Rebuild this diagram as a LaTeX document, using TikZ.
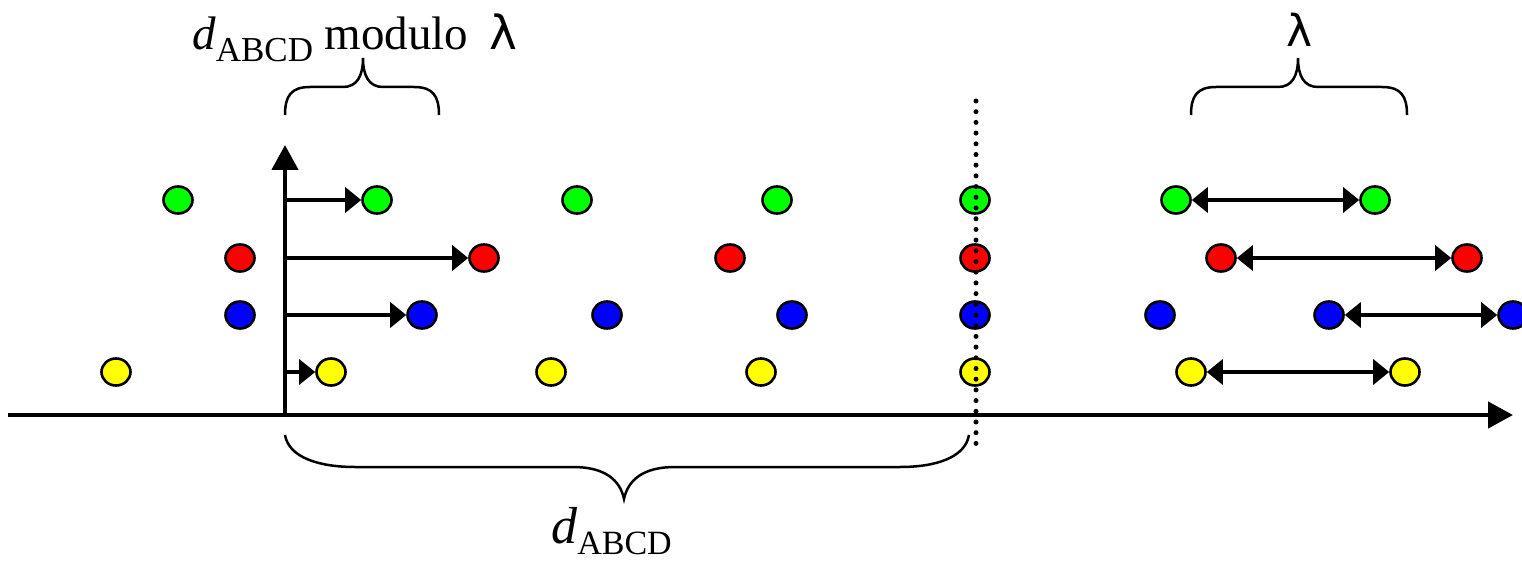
\documentclass[tikz,border=0pt]{standalone}
\usepackage{fontspec}
\setmainfont{Liberation Serif}
\newfontfamily\lamfont{DejaVu Sans}
\usetikzlibrary{arrows.meta,shapes.geometric}
\definecolor{cgreen}{RGB}{0,255,0}
\definecolor{cred}{RGB}{255,0,0}
\definecolor{cblue}{RGB}{0,0,255}
\definecolor{cyellow}{RGB}{255,255,0}
\begin{document}
\begin{tikzpicture}[x=1pt,y=-1pt,
  dot/.style={ellipse,draw,line width=2.6pt,minimum width=29pt,minimum height=27pt,inner sep=0pt},
  shiftarrow/.style={line width=3.5pt,-{Triangle[length=16pt,width=25pt]}},
  spanarrow/.style={line width=3.5pt,{Triangle[length=16pt,width=25pt]}-{Triangle[length=16pt,width=25pt]}},
  axisline/.style={line width=4.5pt,-{Triangle[length=25pt,width=26pt]}},
  bracestyle/.style={line width=2.5pt},
  dotline/.style={line width=5pt,line cap=round,dash pattern=on 0pt off 10.7pt},
  lbl/.style={inner sep=0pt}]
\useasboundingbox (0,0) rectangle (1522,561);

% dots
\foreach \x [count=\i] in {178,377,577,777,975,1176,1375}
  \node[dot,fill=cgreen] (g\i) at (\x,200) {};
\foreach \x [count=\i] in {240,484,730,975,1221,1467}
  \node[dot,fill=cred] (r\i) at (\x,258) {};
\foreach \x [count=\i] in {240,422,607,792,975,1160,1329,1513}
  \node[dot,fill=cblue] (b\i) at (\x,315) {};
\foreach \x [count=\i] in {116,331,551,761,975,1191,1405}
  \node[dot,fill=cyellow] (y\i) at (\x,372) {};

% axes
\coordinate (origin) at (285,415);
\coordinate (xleft) at (8,415);
\coordinate (xend) at (1513,415);
\coordinate (yend) at (285,145);
\draw[axisline] (xleft) -- (xend);
\draw[axisline] (origin) -- (yend);

% shift arrows from the vertical axis
\coordinate (ag) at (285,200);
\coordinate (ar) at (285,258);
\coordinate (ab) at (285,315);
\coordinate (ay) at (285,372);
\draw[shiftarrow] (ag) -- (g2.west);
\draw[shiftarrow] (ar) -- (r2.west);
\draw[shiftarrow] (ab) -- (b2.west);
\draw[shiftarrow] (ay) -- (y2.west);

% span arrows on the right
\draw[spanarrow] (g6.east) -- (g7.west);
\draw[spanarrow] (r5.east) -- (r6.west);
\draw[spanarrow] (b7.east) -- (b8.west);
\draw[spanarrow] (y6.east) -- (y7.west);

% dotted line
\coordinate (dtop) at (976,101);
\coordinate (dbot) at (976,453);
\draw[dotline] (dtop) -- (dbot);

% braces
\draw[bracestyle] (285,115) .. controls (285,96) and (291,87) .. (310,87) -- (343,87)
  .. controls (357,87) and (363,76) .. (363,58)
  .. controls (363,76) and (369,87) .. (383,87) -- (414,87)
  .. controls (433,87) and (439,96) .. (439,115);
\draw[bracestyle] (1191,115) .. controls (1191,96) and (1197,87) .. (1216,87) -- (1278,87)
  .. controls (1292,87) and (1298,76) .. (1298,58)
  .. controls (1298,76) and (1304,87) .. (1318,87) -- (1382,87)
  .. controls (1401,87) and (1407,96) .. (1407,115);
\draw[bracestyle] (285,435) .. controls (289,458) and (320,467) .. (355,467) -- (573,467)
  .. controls (605,467) and (620,480) .. (624,499)
  .. controls (628,480) and (643,467) .. (675,467) -- (900,467)
  .. controls (935,467) and (965,458) .. (969,435);

% labels
\node[lbl,anchor=base west] (toplabel) at (192,50)
  {\fontsize{47}{47}\selectfont\textit{d}\raisebox{-12pt}{\fontsize{35}{35}\selectfont ABCD} modulo\hspace{0.45em}{\lamfont λ}};
\node[lbl,anchor=base] (rightlabel) at (1299,47)
  {\fontsize{44}{44}\selectfont\lamfont λ};
\node[lbl,anchor=base west] (bottomlabel) at (551,543)
  {\fontsize{52}{52}\selectfont\textit{d}\raisebox{-11pt}{\fontsize{34}{34}\selectfont ABCD}};
\end{tikzpicture}
\end{document}
